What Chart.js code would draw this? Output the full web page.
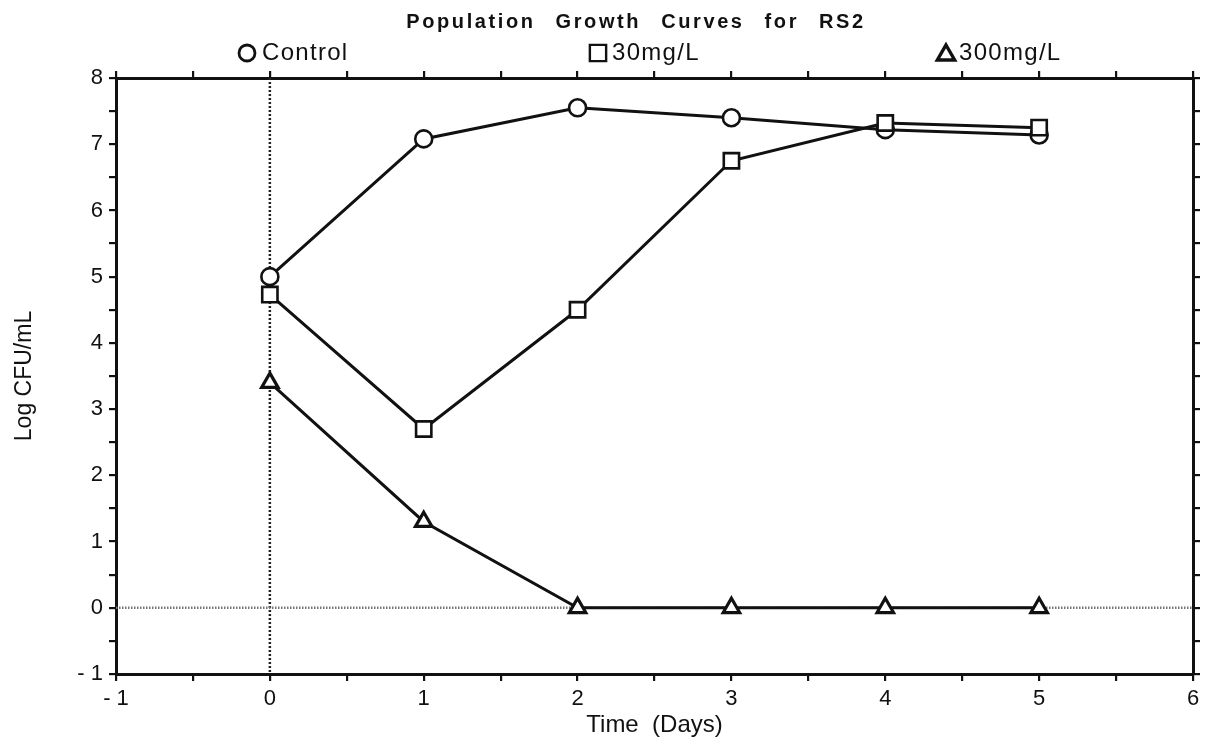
<!DOCTYPE html>
<html>
<head>
<meta charset="utf-8">
<title>Population Growth Curves for RS2</title>
<script src="https://cdn.jsdelivr.net/npm/chart.js@4/dist/chart.umd.min.js"></script>
<style>
  html, body { margin: 0; padding: 0; background: #fff; }
  canvas { display: block; }
</style>
</head>
<body>
<canvas id="growth" width="1212" height="743"></canvas>
<script>
// Sampling days and log counts for each treatment
const days = [0, 1, 2, 3, 4, 5];
const control = [5.0, 7.08, 7.55, 7.40, 7.22, 7.14];
const mg30 = [4.73, 2.70, 4.50, 6.75, 7.32, 7.25];
const mg300 = [3.40, 1.30, 0, 0, 0, 0];
const seriesLabels = ['Control', '30mg/L', '300mg/L'];
const seriesStyles = ['circle', 'rect', 'triangle'];

// Axis ranges (labelled every whole unit, ticked every half unit)
const xRange = [-1, 6];
const yRange = [-1, 8];
const tickStep = 0.5;

const chartTitle = 'Population Growth Curves for RS2';
const xTitle = 'Time  (Days)';
const yTitle = 'Log CFU/mL';

const INK = '#111';
const FONT = '"Liberation Sans", Arial, Helvetica, sans-serif';

const fmtTick = v => Number.isInteger(v) ? (v < 0 ? '- ' + Math.abs(v) : String(v)) : '';
const toPoints = vals => days.map((d, i) => ({ x: d, y: vals[i] }));

// Dotted reference lines at day 0 and at zero count
const zeroLines = {
  id: 'zeroLines',
  beforeDatasetsDraw(chart) {
    const { ctx, chartArea: a, scales: { x, y } } = chart;
    const px = x.getPixelForValue(0);
    const py = y.getPixelForValue(0);
    ctx.save();
    ctx.lineWidth = 2.5;
    ctx.setLineDash([2, 2]);
    ctx.strokeStyle = '#222';
    ctx.beginPath(); ctx.moveTo(px, a.top); ctx.lineTo(px, a.bottom); ctx.stroke();
    ctx.strokeStyle = '#777';
    ctx.lineWidth = 2.5;
    ctx.setLineDash([1.5, 1.5]);
    ctx.beginPath(); ctx.moveTo(a.left, py); ctx.lineTo(a.right, py); ctx.stroke();
    ctx.restore();
  }
};

// Spaced-out title and a single-row legend spread across the top
const header = {
  id: 'header',
  afterDraw(chart) {
    const ctx = chart.ctx;
    ctx.save();
    ctx.fillStyle = INK;
    ctx.textBaseline = 'middle';
    ctx.textAlign = 'left';

    ctx.font = 'bold 20px ' + FONT;
    ctx.letterSpacing = '2.6px';
    const words = chartTitle.split(' ');
    const gap = 20;
    const widths = words.map(w => ctx.measureText(w).width);
    const total = widths.reduce((s, w) => s + w, 0) + gap * (words.length - 1);
    let tx = 636 - total / 2;
    words.forEach((w, i) => { ctx.fillText(w, tx, 22); tx += widths[i] + gap; });

    const markerX = [247, 598, 946];
    const textX = [262, 612, 959];
    const markerR = [8, 11.5, 10];
    const markerW = [2.8, 2.4, 3.4];
    const ly = 53;
    ctx.font = '24px ' + FONT;
    ctx.letterSpacing = '1.3px';
    chart.data.datasets.forEach((ds, i) => {
      ctx.fillStyle = '#fff';
      ctx.strokeStyle = INK;
      ctx.lineWidth = markerW[i];
      ctx.setLineDash([]);
      Chart.helpers.drawPoint(ctx, { pointStyle: ds.pointStyle, radius: markerR[i], borderWidth: markerW[i], rotation: 0 },
        markerX[i], i === 2 ? ly + 2 : ly);
      ctx.fillStyle = INK;
      ctx.fillText(ds.label, textX[i], ly);
    });
    ctx.restore();
  }
};

const bg = {
  id: 'bg',
  beforeDraw(chart) {
    const { ctx, width, height } = chart;
    ctx.save();
    ctx.fillStyle = '#fff';
    ctx.fillRect(0, 0, width, height);
    ctx.restore();
  }
};

const makeSet = (i, vals, radius, pbw, order) => ({
  label: seriesLabels[i],
  data: toPoints(vals),
  pointStyle: seriesStyles[i],
  borderColor: INK,
  borderWidth: 3,
  pointRadius: radius,
  pointHoverRadius: radius,
  pointBackgroundColor: '#fff',
  pointBorderColor: INK,
  pointBorderWidth: pbw,
  tension: 0,
  fill: false,
  clip: false,
  order: order
});

const tickGrid = { drawOnChartArea: false, drawTicks: true, tickLength: 7, color: INK, lineWidth: 2.2 };
const axisBorder = { display: true, color: INK, width: 3 };

new Chart(document.getElementById('growth'), {
  type: 'line',
  data: {
    datasets: [
      makeSet(0, control, 8.5, 2.6, 1),
      makeSet(1, mg30, 10.8, 2.6, 0),
      makeSet(2, mg300, 9.5, 3.2, 2)
    ]
  },
  options: {
    responsive: false,
    animation: false,
    events: [],
    layout: { padding: { top: 71, right: 12, left: 0, bottom: 0 } },
    plugins: { legend: { display: false }, title: { display: false }, tooltip: { enabled: false } },
    scales: {
      x: {
        type: 'linear', position: 'bottom', min: xRange[0], max: xRange[1],
        afterFit(s) { s.height = 69; },
        ticks: { stepSize: tickStep, autoSkip: false, maxRotation: 0, padding: 5, color: INK,
                 font: { family: FONT, size: 22 }, callback: fmtTick },
        grid: tickGrid, border: axisBorder,
        title: { display: true, text: xTitle, color: INK, font: { family: FONT, size: 24 }, padding: { top: 0, bottom: 3 } }
      },
      x2: {
        type: 'linear', position: 'top', display: true, min: xRange[0], max: xRange[1],
        afterFit(s) { s.height = 7; },
        ticks: { display: false, stepSize: tickStep, autoSkip: false },
        grid: tickGrid, border: axisBorder
      },
      y: {
        type: 'linear', position: 'left', min: yRange[0], max: yRange[1],
        afterFit(s) { s.width = 116; },
        ticks: { stepSize: tickStep, autoSkip: false, padding: 6, color: INK,
                 font: { family: FONT, size: 22 }, callback: fmtTick },
        grid: tickGrid, border: axisBorder,
        title: { display: true, text: yTitle, color: INK, font: { family: FONT, size: 23 }, padding: { top: 11, bottom: 0 } }
      },
      y2: {
        type: 'linear', position: 'right', display: true, min: yRange[0], max: yRange[1],
        afterFit(s) { s.width = 7; },
        ticks: { display: false, stepSize: tickStep, autoSkip: false },
        grid: tickGrid, border: axisBorder
      }
    }
  },
  plugins: [bg, zeroLines, header]
});
</script>
</body>
</html>
